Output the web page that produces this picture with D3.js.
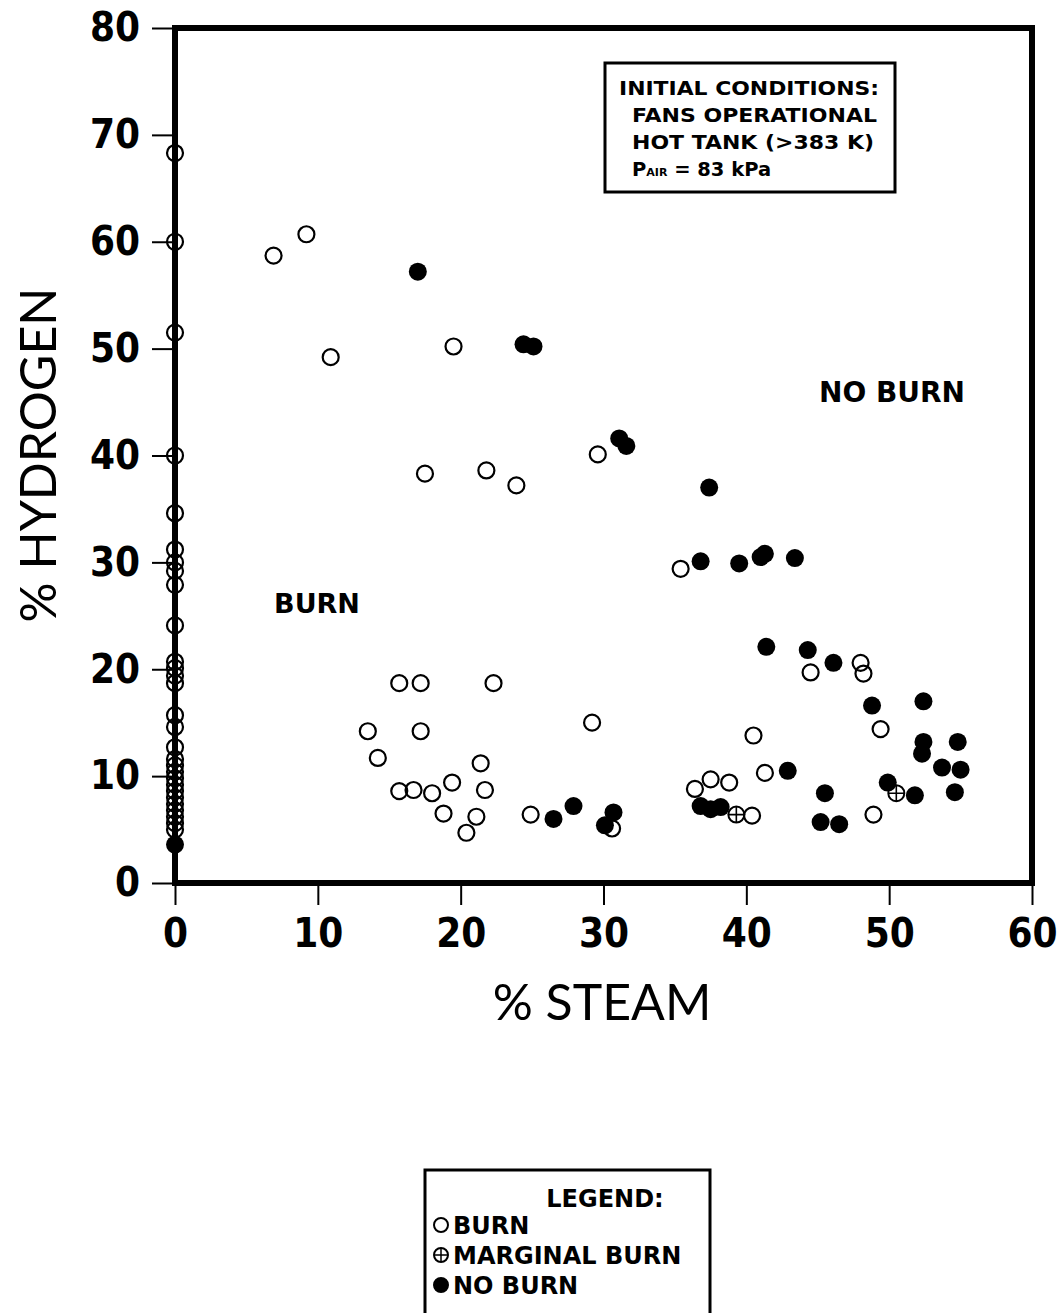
<!DOCTYPE html>
<head>
<meta charset="utf-8">
<script src="https://cdn.jsdelivr.net/npm/d3@7/dist/d3.min.js"></script>
<style>
body { margin: 0; background: #fff; }
svg { font-family: "DejaVu Sans", sans-serif; }
</style>
</head>
<body>
<script>
// data: [% steam, % hydrogen]
var burn = [
  [0,68.3],[0,60.0],[0,51.5],[0,40.0],[0,34.6],[0,31.2],[0,30.0],[0,29.2],[0,27.9],[0,24.1],
  [0,20.7],[0,20.1],[0,19.4],[0,18.7],[0,15.7],[0,14.6],[0,12.7],[0,11.6],[0,11.0],[0,10.4],
  [0,9.8],[0,9.2],[0,8.6],[0,8.0],[0,7.4],[0,6.8],[0,6.2],[0,5.6],[0,5.0],
  [6.9,58.7],[9.2,60.7],[10.9,49.2],[19.5,50.2],[17.5,38.3],[21.8,38.6],[23.9,37.2],[29.6,40.1],
  [35.4,29.4],[15.7,18.7],[17.2,18.7],[22.3,18.7],[13.5,14.2],[17.2,14.2],[14.2,11.7],
  [15.7,8.6],[16.7,8.7],[18.0,8.4],[19.4,9.4],[18.8,6.5],[21.4,11.2],[21.7,8.7],[21.1,6.2],
  [20.4,4.7],[24.9,6.4],[29.2,15.0],[30.6,5.1],[36.4,8.8],[37.5,9.7],[38.8,9.4],[40.5,13.8],
  [40.4,6.3],[41.3,10.3],[44.5,19.7],[48.0,20.6],[48.2,19.6],[49.4,14.4],[48.9,6.4]
];
var marginal = [[39.3,6.4],[50.5,8.4]];
var noBurn = [
  [0,3.6],[17.0,57.2],[24.4,50.4],[25.1,50.2],[31.1,41.6],[31.6,40.9],[37.4,37.0],
  [36.8,30.1],[39.5,29.9],[41.0,30.5],[41.3,30.8],[43.4,30.4],[41.4,22.1],[44.3,21.8],
  [46.1,20.6],[48.8,16.6],[52.4,17.0],[52.4,13.2],[52.3,12.1],[54.8,13.2],[53.7,10.8],
  [55.0,10.6],[54.6,8.5],[51.8,8.2],[49.9,9.4],[42.9,10.5],[45.5,8.4],[45.2,5.7],[46.5,5.5],
  [36.8,7.2],[37.5,6.9],[38.2,7.1],[26.5,6.0],[27.9,7.2],[30.7,6.6],[30.1,5.4]
];
var xTicks = [0,10,20,30,40,50,60];
var yTicks = [0,10,20,30,40,50,60,70,80];
var conditions = ["INITIAL CONDITIONS:", "FANS OPERATIONAL", "HOT TANK (>383 K)"];
var legendItems = [["burn","BURN"],["marginal","MARGINAL BURN"],["noburn","NO BURN"]];

var width = 1064, height = 1313;
var svg = d3.select("body").append("svg")
  .attr("width", width)
  .attr("height", height);

var x = d3.scaleLinear().domain([0,60]).range([175,1032]);
var y = d3.scaleLinear().domain([0,80]).range([883,28]);

// axes (ticks + labels), frame drawn separately
var gx = svg.append("g").attr("transform","translate(0,883)")
  .call(d3.axisBottom(x).tickValues(xTicks).tickSize(22).tickPadding(14));
var gy = svg.append("g").attr("transform","translate(175,0)")
  .call(d3.axisLeft(y).tickValues(yTicks).tickSize(23).tickPadding(12));
[gx,gy].forEach(function(g) {
  g.attr("font-family",null).attr("font-size",null);
  g.select(".domain").remove();
  g.selectAll(".tick line").attr("stroke","#000").attr("stroke-width",2);
  g.selectAll(".tick text")
    .style("font-family","'Liberation Sans Narrow', 'DejaVu Sans Condensed', sans-serif")
    .style("font-size","40px").style("font-weight","bold").attr("fill","#000");
});

// heavy frame
svg.append("rect")
  .attr("x",x(0)).attr("y",y(80))
  .attr("width",x(60)-x(0)).attr("height",y(0)-y(80))
  .attr("fill","none").attr("stroke","#000").attr("stroke-width",6);

// axis titles
svg.append("text").attr("x",602).attr("y",1020)
  .attr("text-anchor","middle").style("font-size","50px")
  .style("font-family","Lato, sans-serif").text("% STEAM");
svg.append("text").attr("transform","translate(56,455) rotate(-90)")
  .attr("text-anchor","middle").style("font-size","50px")
  .style("font-family","Lato, sans-serif").text("% HYDROGEN");

// region labels
svg.append("text").attr("x",892).attr("y",402).attr("text-anchor","middle")
  .attr("font-size",28).attr("font-weight","bold").text("NO BURN");
svg.append("text").attr("x",317).attr("y",613).attr("text-anchor","middle")
  .attr("font-size",27).attr("font-weight","bold").text("BURN");

// points
svg.append("g").selectAll("circle").data(burn).enter().append("circle")
  .attr("cx",function(d){return x(d[0]);})
  .attr("cy",function(d){return y(d[1]);})
  .attr("r",8).attr("fill","none").attr("stroke","#000").attr("stroke-width",2.2);

var mg = svg.append("g").selectAll("g").data(marginal).enter().append("g")
  .attr("transform",function(d){return "translate("+x(d[0])+","+y(d[1])+")";});
mg.append("circle").attr("r",8).attr("fill","none").attr("stroke","#000").attr("stroke-width",2);
mg.append("path").attr("d","M-8,0H8M0,-8V8").attr("stroke","#000").attr("stroke-width",1.6);

svg.append("g").selectAll("circle").data(noBurn).enter().append("circle")
  .attr("cx",function(d){return x(d[0]);})
  .attr("cy",function(d){return y(d[1]);})
  .attr("r",9).attr("fill","#000");

// initial conditions box
svg.append("rect").attr("x",605).attr("y",63).attr("width",290).attr("height",129)
  .attr("fill","#fff").attr("stroke","#000").attr("stroke-width",3);
var cb = svg.append("g").attr("font-size",19.5).attr("font-weight","bold");
cb.selectAll("text").data(conditions).enter().append("text")
  .attr("x",function(d,i){return i==0 ? 619 : 632;})
  .attr("y",function(d,i){return 95 + i*27;})
  .attr("textLength",function(d,i){return [260,245,242][i];})
  .attr("lengthAdjust","spacingAndGlyphs")
  .text(function(d){return d;});
var p = cb.append("text").attr("x",632).attr("y",176);
p.append("tspan").text("P");
p.append("tspan").attr("font-size",11).text("AIR");
p.append("tspan").text(" = 83 kPa");

// legend
svg.append("rect").attr("x",425).attr("y",1170).attr("width",285).attr("height",160)
  .attr("fill","#fff").attr("stroke","#000").attr("stroke-width",3);
var lg = svg.append("g").attr("font-size",24).attr("font-weight","bold");
lg.append("text").attr("x",605).attr("y",1207).attr("text-anchor","middle").text("LEGEND:");
var li = lg.selectAll("g.item").data(legendItems).enter().append("g")
  .attr("class","item")
  .attr("transform",function(d,i){return "translate(441,"+(1225+i*30)+")";});
li.append("circle").attr("r",7)
  .attr("fill",function(d){return d[0]=="noburn" ? "#000" : "none";})
  .attr("stroke","#000").attr("stroke-width",2);
li.filter(function(d){return d[0]=="marginal";}).append("path")
  .attr("d","M-7,0H7M0,-7V7").attr("stroke","#000").attr("stroke-width",1.5);
li.append("text").attr("x",12).attr("y",9).text(function(d){return d[1];});
</script>
</body>
